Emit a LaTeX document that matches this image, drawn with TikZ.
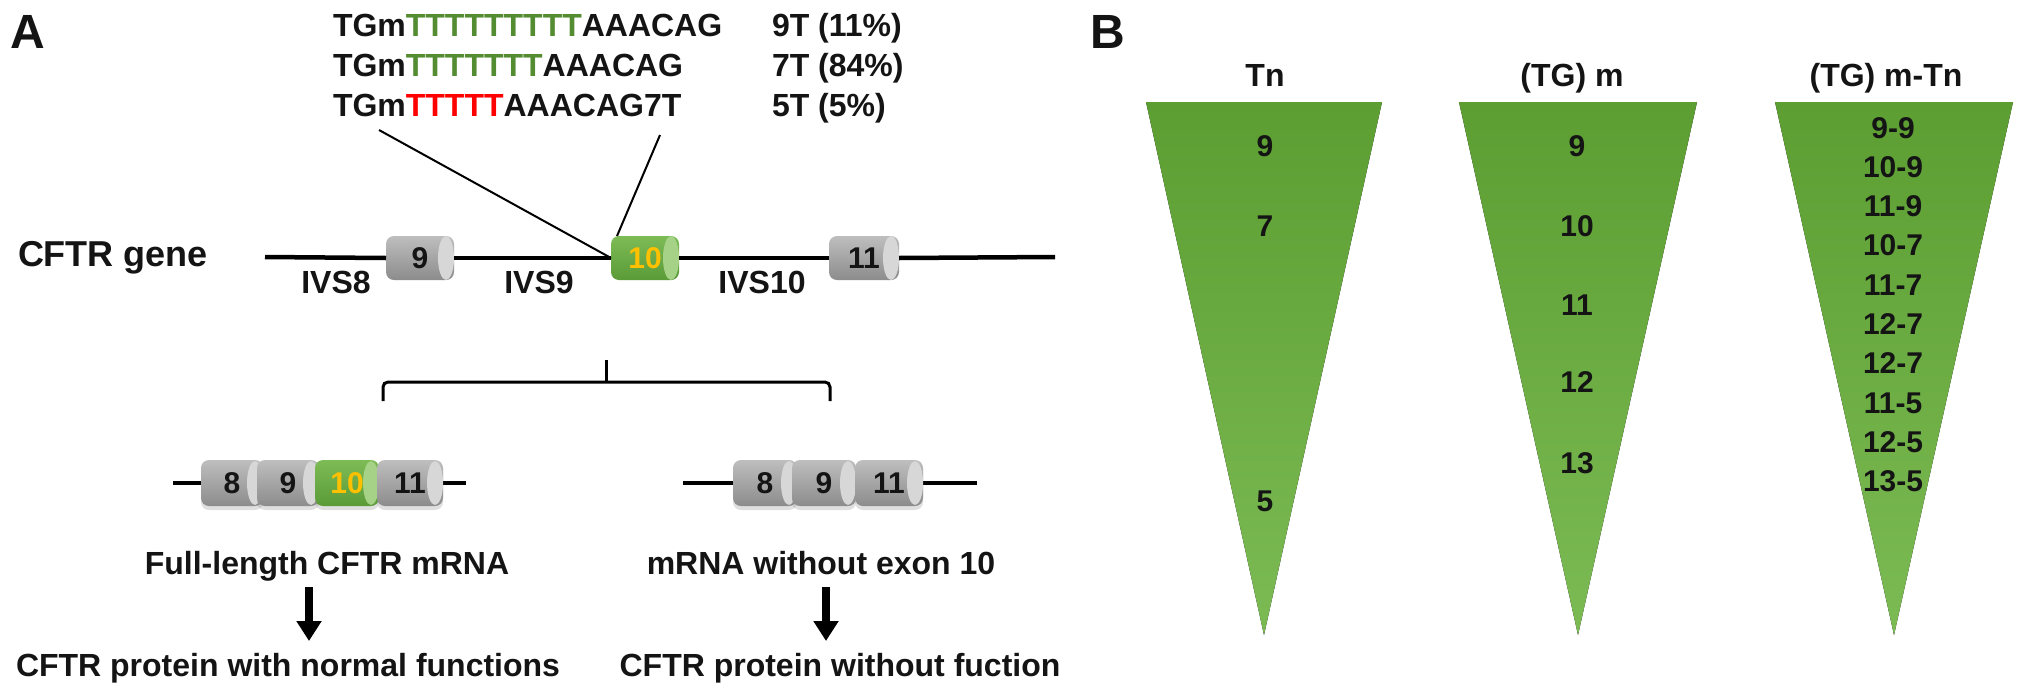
\documentclass[tikz,border=0pt]{standalone}
\usepackage{fontspec}
\setmainfont{Liberation Sans}
\usetikzlibrary{arrows.meta,calc,shadows}
\definecolor{seqgreen}{RGB}{84,140,50}
\definecolor{seqred}{RGB}{255,0,0}
\definecolor{gold}{RGB}{255,192,0}
\definecolor{txt}{RGB}{20,20,20}
\definecolor{grT}{RGB}{190,190,190}
\definecolor{grM}{RGB}{166,166,166}
\definecolor{grB}{RGB}{140,140,140}
\definecolor{grC}{RGB}{215,215,215}
\definecolor{gnT}{RGB}{125,187,85}
\definecolor{gnM}{RGB}{106,170,69}
\definecolor{gnB}{RGB}{90,155,56}
\definecolor{gnC}{RGB}{165,210,135}
\definecolor{trT}{RGB}{92,158,50}
\definecolor{trB}{RGB}{124,187,84}
\begin{document}
\begin{tikzpicture}[x=1pt,y=-1pt,
  every node/.style={inner sep=0pt,outer sep=0pt,text=txt},
  big/.style={font=\bfseries\fontsize{48}{48}\selectfont,anchor=base west},
  lab/.style={font=\bfseries\fontsize{32}{38}\selectfont,anchor=base},
  labw/.style={font=\bfseries\fontsize{32}{38}\selectfont,anchor=base west},
  num/.style={font=\bfseries\fontsize{30}{36}\selectfont,anchor=base},
  exonbase/.style={rectangle,rounded corners=8pt,minimum height=44pt,
     font=\bfseries\fontsize{30}{36}\selectfont},
  exongray/.style={exonbase,top color=grT,middle color=grM,bottom color=grB,
     path picture={\fill[grC] ([xshift=-8pt]path picture bounding box.east) ellipse (8pt and 22pt);}},
  exongreen/.style={exonbase,top color=gnT,middle color=gnM,bottom color=gnB,text=gold,
     path picture={\fill[gnC] ([xshift=-8pt]path picture bounding box.east) ellipse (8pt and 22pt);}},
  mrnashadow/.style={drop shadow={shadow xshift=0pt,shadow yshift=-4pt,opacity=0.25}},
  gline/.style={line width=4.5pt,black},
  thin/.style={line width=2pt,black},
  bracket/.style={line width=3pt,black,rounded corners=5pt},
  bigarrow/.style={line width=8pt,black,-{Triangle[width=24pt,length=20pt]}},
  tri/.style={top color=trT,bottom color=trB}
]
\useasboundingbox (0,0) rectangle (2031,691);
\fill[white] (0,0) rectangle (2031,691);

% ---------- Panel A ----------
\node[big] (A) at (10,48) {A};

\node[labw] (s1) at (333,36) {TGm\textcolor{seqgreen}{TTTTTTTTT}AAACAG};
\node[labw] (s2) at (333,76) {TGm\textcolor{seqgreen}{TTTTTTT}AAACAG};
\node[labw] (s3) at (333,116) {TGm\textcolor{seqred}{TTTTT}AAACAG7T};
\node[labw] (f1) at (772,36) {9T (11\%)};
\node[labw] (f2) at (772,76) {7T (84\%)};
\node[labw] (f3) at (772,116) {5T (5\%)};

\node[font=\bfseries\fontsize{36}{40}\selectfont,anchor=base west] (gene) at (18,266) {CFTR gene};

\coordinate (gL) at (265,257);
\coordinate (gR) at (1055,257);
\node[exongray,minimum width=68pt] (e9) at (420,258) {9};
\node[exongreen,minimum width=68pt] (e10) at (645,258) {10};
\node[exongray,minimum width=70pt] (e11) at (864,258) {11};
\draw[gline] (gL) -- (e9.west);
\draw[gline] (e9.east) -- (e10.west);
\draw[gline] (e10.east) -- (e11.west);
\draw[gline] (e11.east) -- (gR);

\node[lab] (ivs8) at (336,293) {IVS8};
\node[lab] (ivs9) at (539,293) {IVS9};
\node[lab] (ivs10) at (762,293) {IVS10};

\coordinate (p1) at (379,130);
\coordinate (p2) at (660,135);
\draw[thin] (p1) -- (e10.west);
\draw[thin] (p2) -- ([xshift=6pt]e10.north west);

% bracket
\coordinate (bT) at (606,360);
\coordinate (bM) at (606,382);
\coordinate (bL) at (383,401);
\coordinate (bR) at (830,401);
\draw[bracket] (bL) |- (bM) -| (bR);
\draw[line width=3pt] (bT) -- (bM);

% mRNA full length
\coordinate (m1L) at (173,483);
\coordinate (m1R) at (466,483);
\draw[gline] (m1L) -- (m1R);
\node[exongray,mrnashadow,minimum width=62pt,minimum height=46pt] (a8) at (232,483) {8};
\node[exongray,mrnashadow,minimum width=62pt,minimum height=46pt] (a9) at (288,483) {9};
\node[exongreen,mrnashadow,minimum width=64pt,minimum height=46pt] (a10) at (347,483) {10};
\node[exongray,mrnashadow,minimum width=66pt,minimum height=46pt] (a11) at (410,483) {11};

% mRNA without exon 10
\coordinate (m2L) at (683,483);
\coordinate (m2R) at (977,483);
\draw[gline] (m2L) -- (m2R);
\node[exongray,mrnashadow,minimum width=64pt,minimum height=46pt] (b8) at (765,483) {8};
\node[exongray,mrnashadow,minimum width=64pt,minimum height=46pt] (b9) at (824,483) {9};
\node[exongray,mrnashadow,minimum width=68pt,minimum height=46pt] (b11) at (889,483) {11};

\node[lab] (fl) at (327,574) {Full-length CFTR mRNA};
\node[lab] (wo) at (821,574) {mRNA without exon 10};
\node[lab] (pn) at (288,676) {CFTR protein with normal functions};
\node[lab] (pw) at (840,676) {CFTR protein without fuction};

\coordinate (ar1s) at (309,587);
\coordinate (ar1e) at (309,641);
\coordinate (ar2s) at (826,587);
\coordinate (ar2e) at (826,641);
\draw[bigarrow] (ar1s) -- (ar1e);
\draw[bigarrow] (ar2s) -- (ar2e);

% ---------- Panel B ----------
\node[big] (B) at (1090,48) {B};
\node[lab] (h1) at (1265,86) {Tn};
\node[lab] (h2) at (1572,86) {(TG) m};
\node[lab] (h3) at (1886,86) {(TG) m-Tn};

\fill[tri] (1146,102) -- (1382,102) -- (1264,635) -- cycle;
\fill[tri] (1459,102) -- (1697,102) -- (1578,635) -- cycle;
\fill[tri] (1775,102) -- (2013,102) -- (1894,635) -- cycle;

\node[num] (t9) at (1265,156) {9};
\node[num] (t7) at (1265,236) {7};
\node[num] (t5) at (1265,511) {5};

\node[num] (m9) at (1577,156) {9};
\node[num] (m10) at (1577,236) {10};
\node[num] (m11) at (1577,315) {11};
\node[num] (m12) at (1577,392) {12};
\node[num] (m13) at (1577,473) {13};

\foreach \t [count=\i from 0] in {9-9,10-9,11-9,10-7,11-7,12-7,12-7,11-5,12-5,13-5}{
  \node[num] (c\i) at (1893,{138+39.3*\i}) {\t};
}
\end{tikzpicture}
\end{document}
